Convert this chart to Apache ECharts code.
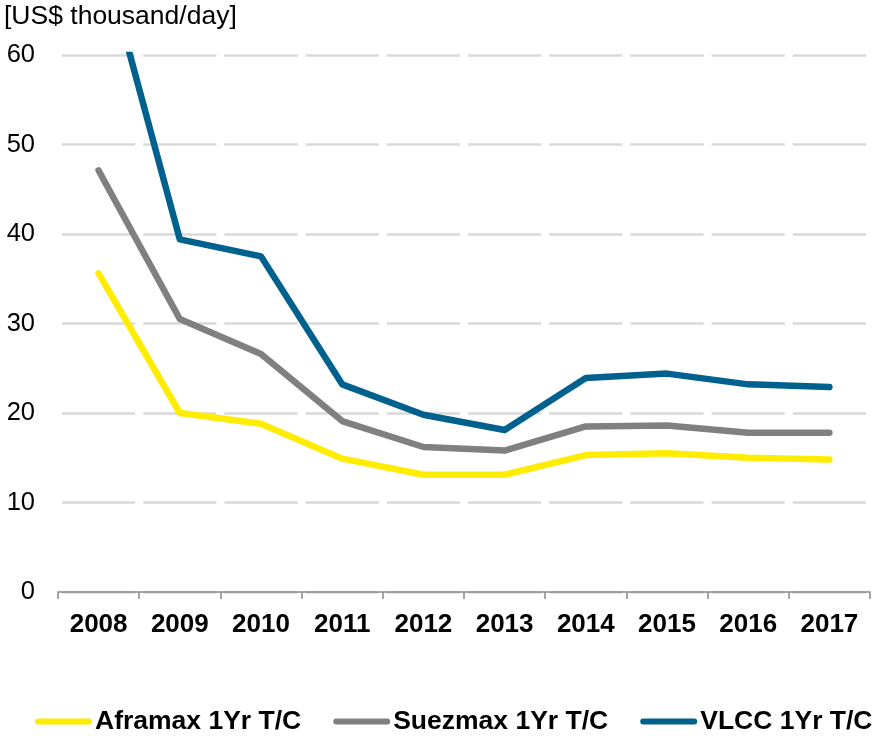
<!DOCTYPE html>
<html>
<head>
<meta charset="utf-8">
<script src="https://cdn.jsdelivr.net/npm/echarts@6/dist/echarts.min.js"></script>
<style>
html,body{margin:0;padding:0;background:#fff;}
#chart{width:873px;height:736px;}
</style>
</head>
<body>
<div id="chart"></div>
<script>
var categories = ['2008','2009','2010','2011','2012','2013','2014','2015','2016','2017'];
var aframax = [35.6, 20.0, 18.8, 14.9, 13.1, 13.1, 15.3, 15.5, 15.0, 14.8];
var suezmax = [47.1, 30.5, 26.6, 19.1, 16.2, 15.8, 18.5, 18.6, 17.8, 17.8];
var vlcc = [73.0, 39.4, 37.5, 23.2, 19.8, 18.1, 23.9, 24.4, 23.2, 22.9];
var seriesNames = ['Aframax 1Yr T/C', 'Suezmax 1Yr T/C', 'VLCC 1Yr T/C'];
var yTicks = [0, 10, 20, 30, 40, 50, 60];
var unitLabel = '[US$ thousand/day]';

var FONT = '"Liberation Sans", Arial, sans-serif';
var colors = ['#FFEC00', '#808080', '#00618E'];
var chart = echarts.init(document.getElementById('chart'), null, {renderer: 'canvas'});

function lineSeries(name, data, color) {
  return {
    name: name,
    type: 'line',
    data: data,
    showSymbol: false,
    symbol: 'none',
    clip: true,
    color: color,
    lineStyle: {width: 6.5, color: color, cap: 'round', join: 'round'},
    emphasis: {disabled: true},
    animation: false
  };
}

var legendIcon = 'path://M3,0 L54,0 A3,3 0 0 1 54,6 L3,6 A3,3 0 0 1 3,0 Z';

chart.setOption({
  animation: false,
  backgroundColor: '#ffffff',
  title: {
    text: unitLabel,
    left: 4,
    top: 3,
    padding: 0,
    textStyle: {fontFamily: FONT, fontSize: 26.5, fontWeight: 'normal', color: '#000'}
  },
  grid: {left: 58, right: 3, top: 55, bottom: 144, containLabel: false},
  legend: {
    data: seriesNames.map(function (n) { return {name: n, icon: legendIcon}; }),
    left: 35,
    top: 708,
    padding: 0,
    itemWidth: 57,
    itemHeight: 6,
    itemGap: 32,
    textStyle: {fontFamily: FONT, fontSize: 26.5, fontWeight: 'bold', color: '#000', padding: [0, 0, 0, -2]}
  },
  xAxis: {
    type: 'category',
    data: categories,
    boundaryGap: true,
    axisLine: {show: true, lineStyle: {color: '#898989', width: 1.5}},
    axisTick: {show: true, length: 7, lineStyle: {color: '#898989', width: 1.5}},
    axisLabel: {fontFamily: FONT, fontSize: 26, fontWeight: 'bold', color: '#000', margin: 20},
    splitLine: {show: false}
  },
  yAxis: {
    type: 'value',
    min: 0,
    max: 60,
    interval: 10,
    axisLine: {show: false},
    axisTick: {show: false},
    axisLabel: {fontFamily: FONT, fontSize: 25.5, color: '#000', margin: 23,
      formatter: function (v) { return yTicks.indexOf(v) >= 0 ? String(v) : ''; }},
    splitLine: {show: true, lineStyle: {color: '#d9d9d9', width: 2.5, type: [73.2, 8], dashOffset: 77.2}}
  },
  series: [
    lineSeries(seriesNames[0], aframax, colors[0]),
    lineSeries(seriesNames[1], suezmax, colors[1]),
    lineSeries(seriesNames[2], vlcc, colors[2])
  ]
});
</script>
</body>
</html>
